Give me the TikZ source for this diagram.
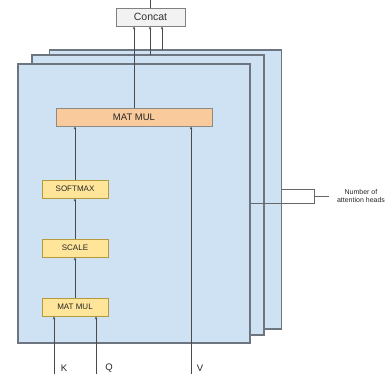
\documentclass[tikz,border=0pt]{standalone}
\usepackage{fontspec}
\setmainfont{Liberation Sans}
\usepackage{tikz}
\usetikzlibrary{arrows.meta}
\definecolor{panelfill}{HTML}{CFE2F3}
\definecolor{paneldraw}{HTML}{6D7580}
\definecolor{opfill}{HTML}{FFE599}
\definecolor{opdraw}{HTML}{B59A3C}
\definecolor{bigfill}{HTML}{F9CB9C}
\definecolor{bigdraw}{HTML}{8F8A86}
\definecolor{linegray}{HTML}{4A4A4A}

\begin{document}
\begin{tikzpicture}[x=1pt,y=-1pt]
    \tikzset{
    panel/.style={rectangle,inner sep=0,fill=panelfill,draw=paneldraw,line width=1.2pt,minimum width=232pt,minimum height=279pt},
    op/.style={rectangle,inner sep=0,fill=opfill,draw=opdraw,line width=0.9pt,minimum width=66pt,minimum height=18pt,font=\fontsize{8}{9}\selectfont,text=black!85},
    bigop/.style={op,fill=bigfill,draw=bigdraw,minimum width=156pt,font=\fontsize{9.5}{10}\selectfont},
    concatbox/.style={rectangle,inner sep=0,fill=black!5,draw=black!50,line width=0.9pt,minimum width=69pt,minimum height=18pt,font=\fontsize{10.5}{11}\selectfont,text=black!80},
    arr/.style={-{Stealth[length=3pt,width=2.4pt]},draw=linegray,line width=0.8pt},
    ln/.style={draw=linegray,line width=0.8pt},
    lbl/.style={font=\fontsize{9.5}{10}\selectfont,text=black!85,inner sep=0},
    }
    \useasboundingbox (0,0) rectangle (390,374);

    % heads, back to front
    \node[panel] (back) at (165.5,189.5) {};
    \node[panel,minimum height=280pt] (middle) at (148,195) {};
    \node[panel] (front) at (134,203.5) {};

    \node[concatbox] (concat) at (150.5,17) {Concat};
    \node[bigop] (mm) at (134,117) {MAT MUL};
    \node[op] (softmax) at (75,189) {SOFTMAX};
    \node[op] (scale) at (75,248) {SCALE};
    \node[op] (mm2) at (75,307) {MAT MUL};

    \coordinate (out) at (150.5,0);
    \coordinate (h2) at (150,55);
    \coordinate (h3) at (162,50);
    \coordinate (k) at (54,374);
    \coordinate (q) at (96,374);
    \coordinate (v) at (191,374);
    \node[lbl] (kl) at (64,368) {K};
    \node[lbl] (ql) at (109,368) {Q};
    \node[lbl] (vl) at (200,368.5) {V};

    \draw[ln] (concat.north) -- (out);
    \draw[arr] (mm.north) -- (mm.north |- concat.south);
    \draw[arr] (h2) -- (h2 |- concat.south);
    \draw[arr] (h3) -- (h3 |- concat.south);
    \draw[arr] (softmax.north) -- (softmax.north |- mm.south);
    \draw[arr] (scale.north) -- (softmax.south);
    \draw[arr] (mm2.north) -- (scale.south);
    \draw[arr] (k) -- (k |- mm2.south);
    \draw[arr] (q) -- (q |- mm2.south);
    \draw[arr] (v) -- (v |- mm.south);

    % bracket for the heads
    \coordinate (bt) at (314,189);
    \coordinate (bb) at (314,203);
    \coordinate (bm) at (314,196);
    \coordinate (bs) at (329,196);
    \draw[ln,draw=black!60] (back.east |- bt) -- (bt) -- (bb) -- (front.east |- bb);
    \draw[ln,draw=black!60] (bm) -- (bs);
    \node[lbl,font=\fontsize{7}{8.5}\selectfont,align=center] (heads) at (361,196) {Number of\\attention heads};
\end{tikzpicture}
\end{document}
